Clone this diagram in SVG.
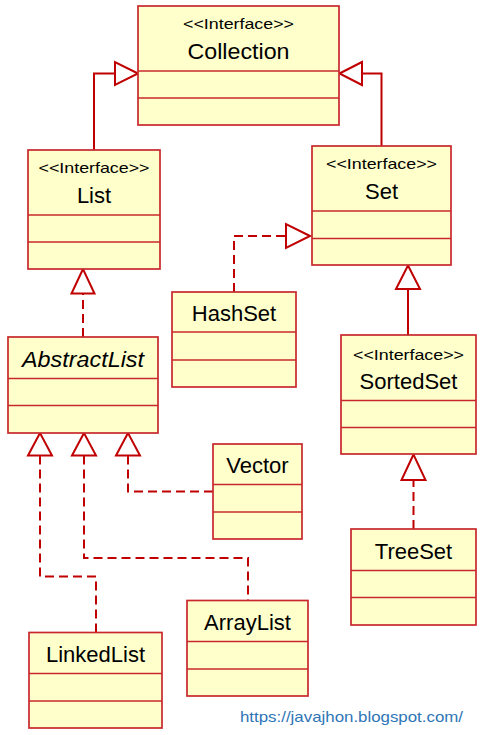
<svg xmlns="http://www.w3.org/2000/svg" width="485" height="735" viewBox="0 0 485 735">
<style>
.box{fill:#ffffcc;stroke:#c8282d;stroke-width:1.7}
.div{stroke:#c8282d;stroke-width:1.6}
.t{font-family:"Liberation Sans",Arial,sans-serif;font-size:22px;fill:#000;text-anchor:middle}
.s{font-family:"Liberation Sans",Arial,sans-serif;font-size:15px;fill:#000;text-anchor:middle}
.it{font-style:italic}
.ln{fill:none;stroke:#c00000;stroke-width:2}
.dash{stroke-dasharray:9 5}
.tri{fill:#fff;stroke:#c00000;stroke-width:2}
.url{font-family:"Liberation Sans",Arial,sans-serif;font-size:15px;fill:#2e75b6}
</style>
<rect width="485" height="735" fill="#fff"/>
<g id="connectors">
  <polyline class="ln" points="94,150 94,73.5 115,73.5"/>
  <polygon class="tri" points="138,73.5 115,62 115,85"/>
  <polyline class="ln" points="381.5,146 381.5,73.5 362,73.5"/>
  <polygon class="tri" points="339.5,73.5 362,62 362,85"/>
  <polyline class="ln dash" points="234,292 234,236 286,236"/>
  <polygon class="tri" points="310,236 286,224 286,248"/>
  <polyline class="ln dash" points="83,337 83,293.5"/>
  <polygon class="tri" points="83,269 71.5,293.5 94.5,293.5"/>
  <polyline class="ln" points="408,335 408,289"/>
  <polygon class="tri" points="408,265.5 396,289 420,289"/>
  <polyline class="ln dash" points="413.5,529 413.5,480"/>
  <polygon class="tri" points="413.5,454.5 401.5,480 425.5,480"/>
  <polygon class="tri" points="40,433 28,455.5 52,455.5"/>
  <polygon class="tri" points="84,433 72,455.5 96,455.5"/>
  <polygon class="tri" points="128,433 116,455.5 140,455.5"/>
  <polyline class="ln dash" points="128,455.5 128,491.5 213,491.5"/>
  <polyline class="ln dash" points="84,455.5 84,558 248,558 248,600.5"/>
  <polyline class="ln dash" points="40,455.5 40,576.5 96,576.5 96,632.5"/>
</g>
<g id="Collection">
  <rect class="box" x="138" y="6" width="201" height="119"/>
  <line class="div" x1="138" y1="71" x2="339" y2="71"/>
  <line class="div" x1="138" y1="98" x2="339" y2="98"/>
  <text class="s" x="238.5" y="29" textLength="111" lengthAdjust="spacingAndGlyphs">&lt;&lt;Interface&gt;&gt;</text>
  <text class="t" x="238.5" y="59" textLength="102" lengthAdjust="spacingAndGlyphs">Collection</text>
</g>
<g id="List">
  <rect class="box" x="28" y="150" width="132" height="119"/>
  <line class="div" x1="28" y1="215" x2="160" y2="215"/>
  <line class="div" x1="28" y1="242" x2="160" y2="242"/>
  <text class="s" x="94" y="173" textLength="111" lengthAdjust="spacingAndGlyphs">&lt;&lt;Interface&gt;&gt;</text>
  <text class="t" x="94" y="203">List</text>
</g>
<g id="Set">
  <rect class="box" x="312" y="146" width="139" height="119"/>
  <line class="div" x1="312" y1="211" x2="451" y2="211"/>
  <line class="div" x1="312" y1="238.5" x2="451" y2="238.5"/>
  <text class="s" x="381.5" y="169" textLength="111" lengthAdjust="spacingAndGlyphs">&lt;&lt;Interface&gt;&gt;</text>
  <text class="t" x="381.5" y="199">Set</text>
</g>
<g id="HashSet">
  <rect class="box" x="172" y="292" width="124" height="95"/>
  <line class="div" x1="172" y1="332" x2="296" y2="332"/>
  <line class="div" x1="172" y1="360" x2="296" y2="360"/>
  <text class="t" x="234" y="321">HashSet</text>
</g>
<g id="AbstractList">
  <rect class="box" x="8" y="337" width="150" height="96"/>
  <line class="div" x1="8" y1="378.5" x2="158" y2="378.5"/>
  <line class="div" x1="8" y1="405.5" x2="158" y2="405.5"/>
  <text class="t it" x="83" y="367" textLength="122" lengthAdjust="spacingAndGlyphs">AbstractList</text>
</g>
<g id="SortedSet">
  <rect class="box" x="341" y="335" width="135" height="119"/>
  <line class="div" x1="341" y1="400.5" x2="476" y2="400.5"/>
  <line class="div" x1="341" y1="427.5" x2="476" y2="427.5"/>
  <text class="s" x="408.5" y="360" textLength="111" lengthAdjust="spacingAndGlyphs">&lt;&lt;Interface&gt;&gt;</text>
  <text class="t" x="408.5" y="388.5">SortedSet</text>
</g>
<g id="Vector">
  <rect class="box" x="213" y="444" width="89" height="95"/>
  <line class="div" x1="213" y1="484.5" x2="302" y2="484.5"/>
  <line class="div" x1="213" y1="512" x2="302" y2="512"/>
  <text class="t" x="257.5" y="472.5">Vector</text>
</g>
<g id="TreeSet">
  <rect class="box" x="351" y="529" width="125" height="96"/>
  <line class="div" x1="351" y1="570.5" x2="476" y2="570.5"/>
  <line class="div" x1="351" y1="597.5" x2="476" y2="597.5"/>
  <text class="t" x="413.5" y="558.5">TreeSet</text>
</g>
<g id="ArrayList">
  <rect class="box" x="187" y="600.5" width="121" height="95.5"/>
  <line class="div" x1="187" y1="641.5" x2="308" y2="641.5"/>
  <line class="div" x1="187" y1="669" x2="308" y2="669"/>
  <text class="t" x="247.5" y="630">ArrayList</text>
</g>
<g id="LinkedList">
  <rect class="box" x="29" y="632.5" width="133" height="95.5"/>
  <line class="div" x1="29" y1="673.5" x2="162" y2="673.5"/>
  <line class="div" x1="29" y1="701" x2="162" y2="701"/>
  <text class="t" x="95.5" y="662">LinkedList</text>
</g>
<text class="url" x="240" y="722" textLength="223" lengthAdjust="spacingAndGlyphs">https://javajhon.blogspot.com/</text>
</svg>
